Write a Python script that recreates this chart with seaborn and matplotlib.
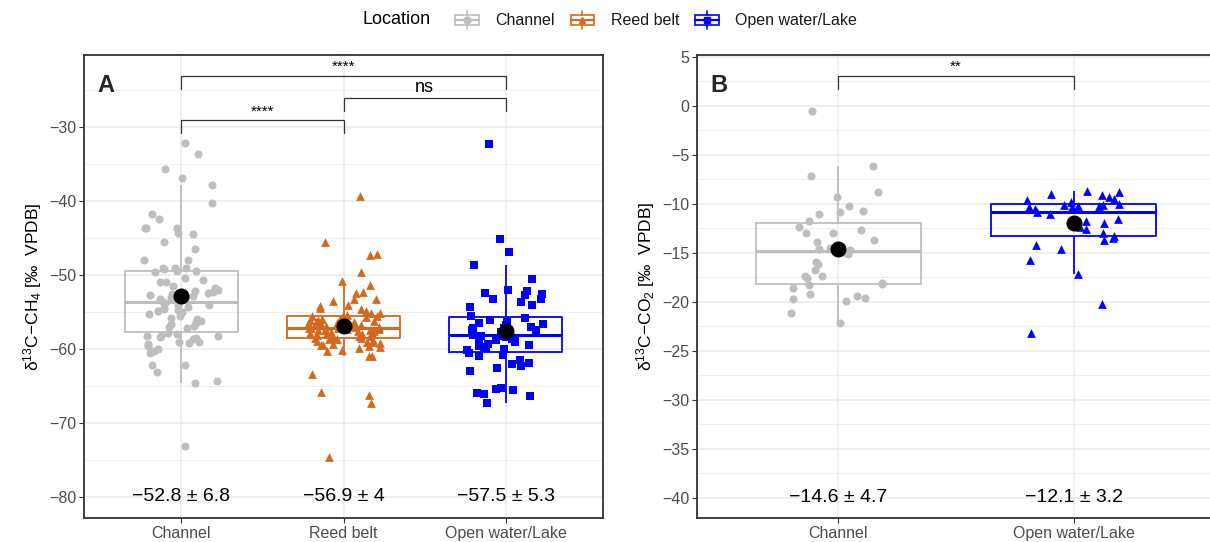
import numpy as np
import pandas as pd
import matplotlib
matplotlib.use("Agg")
import matplotlib.pyplot as plt
import seaborn as sns
from matplotlib.legend_handler import HandlerBase
from matplotlib.lines import Line2D
from matplotlib.patches import Rectangle

# ---------------- data ----------------
locations_A = ["Channel", "Reed belt", "Open water/Lake"]
locations_B = ["Channel", "Open water/Lake"]

ch4_channel = [-32.1, -33.6, -35.7, -36.9, -37.9, -40.3, -41.7, -42.5, -43.6, -43.6, -43.7, -44.3,
               -44.4, -45.6, -46.5, -48.0, -48.0, -49.0, -49.0, -49.1, -49.2, -49.4, -49.4, -49.6,
               -50.4, -50.7, -50.9, -51.0, -51.5, -51.8, -52.0, -52.2, -52.3, -52.4, -52.6, -52.7,
               -52.9, -53.0, -53.1, -53.2, -53.3, -53.4, -53.6, -53.8, -54.0, -54.1,
               -54.3, -54.5, -54.6, -54.7, -54.8, -54.8, -55.0, -55.3, -55.5, -55.8, -56.0, -56.2,
               -56.3, -56.5, -56.6, -56.9, -57.0, -57.2, -57.8, -58.0, -58.2, -58.2, -58.3, -58.4,
               -58.5, -58.6, -59.0, -59.1, -59.2, -59.3, -59.6, -60.0, -60.3, -60.5, -62.1, -62.2,
               -63.1, -64.3, -64.6, -73.1]
ch4_reed = [-39.3, -45.6, -47.1, -47.3, -49.6, -50.8, -51.4, -52.3, -52.4, -53.2, -53.3, -53.5,
            -54.0, -54.2, -54.5, -54.6,
            -54.9, -55.1, -55.2, -55.4, -55.5, -55.5, -55.6, -55.7, -55.8, -55.9, -56.0, -56.1,
            -56.1, -56.2, -56.3, -56.4, -56.5, -56.6, -56.6, -56.7, -56.8, -56.9, -56.9, -57.0,
            -57.0, -57.1, -57.1, -57.2, -57.2, -57.3, -57.3, -57.4, -57.4, -57.5, -57.6, -57.6,
            -57.7, -57.8, -57.8, -57.9, -58.0, -58.1, -58.2, -58.2, -58.3, -58.4, -58.5, -58.5,
            -58.6, -58.7, -58.8, -58.9, -59.0, -59.1, -59.2, -59.3, -59.4, -59.5, -59.6, -59.7,
            -59.9, -60.1, -60.3,
            -60.9, -61.0, -63.4, -65.8, -66.2, -67.3, -74.6]
ch4_open = [-32.3, -45.1, -46.9, -48.7, -50.6, -52.0, -52.2, -52.4, -52.6, -52.7, -53.2, -53.3,
            -53.6, -54.0, -54.3, -55.5, -55.8,
            -56.1, -56.3, -56.5, -56.6, -56.8, -57.0, -57.1, -57.2, -57.4, -57.5, -57.7, -57.8,
            -57.9, -58.0, -58.1, -58.2, -58.3, -58.4, -58.6, -58.7, -58.8, -59.0, -59.1, -59.3,
            -59.4, -59.6, -59.7, -59.9, -60.0, -60.2,
            -60.5, -60.8, -61.0, -61.5, -61.9, -62.0, -62.3, -62.6, -63.0, -65.3, -65.4, -65.6,
            -65.9, -66.1, -66.3, -67.3]

co2_channel = [-0.5, -6.2, -7.2, -8.8, -9.3, -10.2, -10.7, -10.8, -11.1, -11.8, -12.4, -12.7,
               -13.0, -13.0, -13.7, -13.9, -14.5, -14.6, -14.7, -15.0, -15.1, -16.0, -16.2, -16.8,
               -17.4, -17.4, -17.6, -18.1, -18.2, -18.3, -18.6, -19.2, -19.4, -19.6, -19.7, -19.9,
               -21.2, -22.2]
co2_open = [-8.7, -8.8, -9.0, -9.1, -9.3, -9.5, -9.6, -9.8, -10.0, -10.1, -10.1, -10.2, -10.2,
            -10.3, -10.3, -10.5, -10.8, -11.1, -11.6, -11.8, -12.0, -12.4, -12.6, -13.0, -13.3,
            -13.5, -13.7, -14.2, -14.6, -15.7, -17.2, -20.2, -23.2]

labels_A = ["\u221252.8 \u00b1 6.8", "\u221256.9 \u00b1 4", "\u221257.5 \u00b1 5.3"]
labels_B = ["\u221214.6 \u00b1 4.7", "\u221212.1 \u00b1 3.2"]

# significance brackets: (group1, group2, y_bar, label)
sig_A = [("Channel", "Reed belt", -29.1, "****"),
         ("Reed belt", "Open water/Lake", -26.1, "ns"),
         ("Channel", "Open water/Lake", -23.1, "****")]
sig_B = [("Channel", "Open water/Lake", 3.06, "**")]

colors = {"Channel": "#BEBEBE", "Reed belt": "#D2691E", "Open water/Lake": "#0000FF"}
markers_A = {"Channel": "o", "Reed belt": "^", "Open water/Lake": "s"}
markers_B = {"Channel": "o", "Open water/Lake": "^"}

dfA = pd.DataFrame({
    "loc": ["Channel"] * len(ch4_channel) + ["Reed belt"] * len(ch4_reed) + ["Open water/Lake"] * len(ch4_open),
    "val": ch4_channel + ch4_reed + ch4_open})
dfB = pd.DataFrame({
    "loc": ["Channel"] * len(co2_channel) + ["Open water/Lake"] * len(co2_open),
    "val": co2_channel + co2_open})

# ---------------- style ----------------
sns.set_theme(style="white")
plt.rcParams["font.family"] = ["Liberation Sans", "DejaVu Sans"]
plt.rcParams["mathtext.fontset"] = "custom"
plt.rcParams["mathtext.rm"] = "Liberation Sans"
plt.rcParams["mathtext.it"] = "Liberation Sans:italic"
plt.rcParams["mathtext.bf"] = "Liberation Sans:bold"

fig = plt.figure(figsize=(12.1, 5.42), dpi=100)
axA = fig.add_axes([84 / 1210, 1 - 518 / 542, 519 / 1210, 463 / 542])
axB = fig.add_axes([697 / 1210, 1 - 518 / 542, 518 / 1210, 463 / 542])


def draw_panel(ax, df, order, markers, labels, sig, ylim, major, minor, label_y, ylabel, letter,
               jitter, seed):
    sns.boxplot(data=df, x="loc", y="val", hue="loc", order=order, hue_order=order,
                palette=colors, fill=False, width=0.7, showfliers=False, showcaps=False,
                linewidth=1.3, medianprops={"linewidth": 2.2}, legend=False, ax=ax, zorder=2)
    np.random.seed(seed)
    for loc in order:
        sub = df[df["loc"] == loc]
        sns.stripplot(data=sub, x="loc", y="val", order=order, color=colors[loc],
                      marker=markers[loc], size=6.3 if markers[loc] != "o" else 5.8,
                      jitter=jitter, linewidth=0, ax=ax, zorder=3)
    sns.pointplot(data=df, x="loc", y="val", order=order, estimator="mean", errorbar=None,
                  color="black", markers="o", linestyle="none", markersize=9.5, ax=ax, zorder=5)
    for i, t in enumerate(labels):
        ax.text(i, label_y, t, ha="center", va="center", fontsize=14, color="black", zorder=6)
    span = ylim[1] - ylim[0]
    for g1, g2, yb, lab in sig:
        x1, x2 = order.index(g1), order.index(g2)
        drop = span * 0.028
        ax.plot([x1, x1, x2, x2], [yb - drop, yb, yb, yb - drop], color="#333333", lw=0.9,
                zorder=6, solid_joinstyle="miter")
        ax.text((x1 + x2) / 2, yb + span * 0.004, lab, ha="center", va="bottom",
                fontsize=13 if lab == "ns" else 11, color="black")
    ax.set_xlim(-0.6, len(order) - 0.4)
    ax.set_ylim(*ylim)
    ax.set_yticks(major)
    ax.set_yticks(minor, minor=True)
    ax.grid(True, which="major", color="#EBEBEB", lw=1.1, zorder=0)
    ax.grid(True, which="minor", axis="y", color="#EBEBEB", lw=0.6, zorder=0)
    ax.set_axisbelow(True)
    ax.set_xlabel("")
    ax.set_ylabel(ylabel, fontsize=12.5, color="black", labelpad=4)
    ax.tick_params(axis="both", which="major", length=3.5, width=0.8, color="#333333",
                   labelcolor="#4D4D4D", labelsize=11.5, pad=2, bottom=True, left=True)
    ax.tick_params(axis="both", which="minor", length=0)
    for s in ax.spines.values():
        s.set_color("#333333")
        s.set_linewidth(1.3)
    ax.text(0.025, 0.96, letter, transform=ax.transAxes, fontsize=17, fontweight="bold",
            ha="left", va="top")


draw_panel(axA, dfA, locations_A, markers_A, labels_A, sig_A, (-82.84, -20.27),
           np.arange(-80, -29, 10), np.arange(-75, -20, 10), -80,
           "\u03b4$^{13}$C\u2212CH$_4$ [\u2030  VPDB]", "A", 0.24, 3)
draw_panel(axB, dfB, locations_B, markers_B, labels_B, sig_B, (-42.07, 5.17),
           np.arange(-40, 6, 5), np.arange(-37.5, 5, 5), -40,
           "\u03b4$^{13}$C\u2212CO$_2$ [\u2030  VPDB]", "B", 0.2, 5)


# ---------------- legend ----------------
class BoxHandler(HandlerBase):
    def create_artists(self, legend, orig_handle, xdescent, ydescent, width, height, fontsize, trans):
        c = orig_handle.get_color()
        m = orig_handle.get_marker()
        x0, y0 = -xdescent, -ydescent
        w, h = width, height
        box = Rectangle((x0 + 0.08 * w, y0 + 0.22 * h), 0.84 * w, 0.56 * h, fill=False,
                        ec=c, lw=1.2, transform=trans)
        med = Line2D([x0 + 0.08 * w, x0 + 0.92 * w], [y0 + 0.5 * h] * 2, color=c, lw=1.6, transform=trans)
        w1 = Line2D([x0 + 0.5 * w] * 2, [y0 + 0.78 * h, y0 + 1.0 * h], color=c, lw=1.2, transform=trans)
        w2 = Line2D([x0 + 0.5 * w] * 2, [y0, y0 + 0.22 * h], color=c, lw=1.2, transform=trans)
        pt = Line2D([x0 + 0.5 * w], [y0 + 0.5 * h], marker=m, color=c, ms=5, ls="none", transform=trans)
        return [box, med, w1, w2, pt]


handles = [Line2D([], [], color=colors[l], marker=markers_A[l]) for l in locations_A]
fig.legend(handles, locations_A, handler_map={Line2D: BoxHandler()}, loc="center left",
           bbox_to_anchor=(453 / 1210, 1 - 20 / 542), ncol=3, frameon=False, fontsize=11.5,
           handlelength=1.75, handleheight=1.3, handletextpad=0.9, columnspacing=0.85,
           borderpad=0, borderaxespad=0, labelcolor="#1A1A1A")
fig.text(362 / 1210, 1 - 20 / 542, "Location", ha="left", va="center", fontsize=13, color="black")

fig.savefig("out.png", dpi=100)
